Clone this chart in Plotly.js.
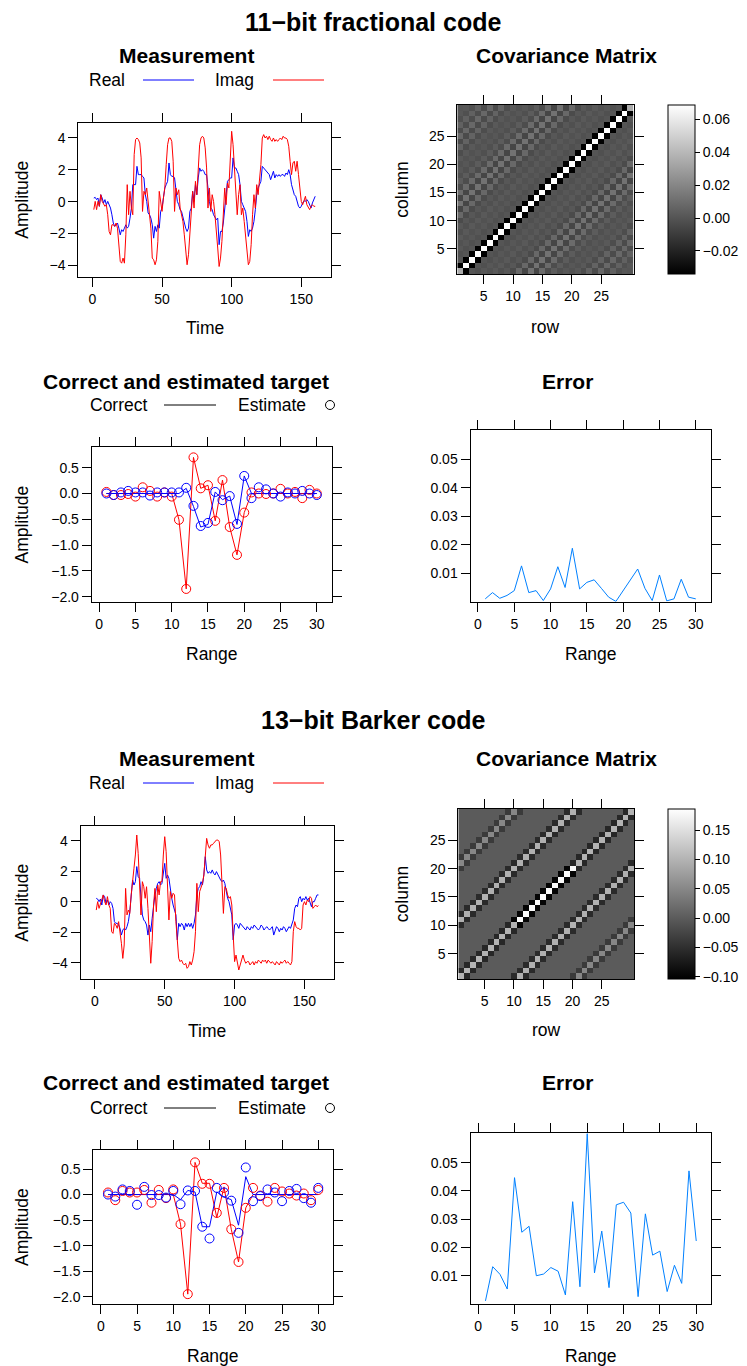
<!DOCTYPE html>
<html><head><meta charset="utf-8">
<script src="https://cdn.plot.ly/plotly-3.0.1.min.js"></script>
<style>html,body{margin:0;padding:0;background:#fff;}#chart{width:747px;height:1366px;}</style>
</head><body><div id="chart"></div>
<script>
// ---------------- DATA ----------------
const timeIdx = Array.from({length:160},(_,i)=>i+1);
const rangeIdx = Array.from({length:30},(_,i)=>i+1);
const covIdx = Array.from({length:30},(_,i)=>i+1);

// 11-bit fractional code: measurement
const frac_real = [0.23,0.27,0.13,0.23,-0.29,0.44,0.23,-0.08,0.13,-0.19,0.02,-0.19,-0.40,-0.82,-1.34,-1.55,-1.45,-1.34,-1.66,-2.08,
-1.76,-1.87,-1.66,-1.45,-1.66,-1.55,-1.03,-0.40,1.07,1.07,1.07,2.22,1.70,1.70,1.70,1.59,1.49,0.44,0.02,-0.71,
-0.82,-1.03,-1.45,-2.29,-1.55,-1.87,-1.45,-1.66,-0.61,-0.40,0.44,0.86,1.07,1.28,2.43,1.70,1.59,1.59,1.49,0.55,
0.02,-0.19,-0.50,-0.61,-1.03,-1.24,-1.66,-1.87,-1.66,-0.61,-0.40,0.65,0.02,1.07,0.44,1.49,2.12,1.91,2.01,1.91,
1.70,1.70,0.65,0.02,-0.40,-0.50,-0.82,-1.03,-1.13,-1.03,-2.70,-1.87,-1.87,-1.34,-0.40,0.44,1.28,1.38,1.49,1.49,
2.75,2.12,2.12,1.91,1.70,1.07,0.02,-0.19,-0.40,-0.61,-1.24,-2.18,-1.76,-1.87,-1.66,-1.24,-0.50,0.44,0.86,1.07,
1.28,2.22,2.12,2.01,1.91,1.80,1.70,1.38,1.70,1.91,1.49,1.70,1.59,1.70,1.59,1.70,1.70,1.59,1.80,1.70,
2.01,1.70,1.07,0.65,0.44,0.34,-0.08,-0.29,-0.40,-0.29,-0.08,0.06,0.02,0.13,0.02,-0.19,-0.40,-0.08,0.13,0.34];
const frac_imag = [-0.50,0.02,-0.50,0.02,-0.29,0.44,0.02,-0.19,-0.29,-0.19,-0.82,-1.87,-2.08,-1.45,-1.45,-1.55,-1.34,-1.66,-2.49,-3.75,
-3.86,-3.54,-3.86,-2.08,1.07,-0.82,0.65,-0.40,-0.82,2.96,3.90,4.00,3.90,3.69,2.75,-0.61,0.65,0.44,0.86,-0.19,
-0.82,-1.66,-3.54,-3.65,-3.96,-3.65,-2.49,0.65,-0.19,-0.61,0.23,0.86,2.33,3.58,4.00,4.00,3.79,2.54,-0.61,0.86,
0.44,0.75,-0.40,-0.82,-1.24,-2.08,-3.33,-3.96,-3.33,-2.08,-0.82,0.65,-0.40,1.28,0.44,2.22,3.58,4.00,4.11,4.00,
3.38,2.12,-0.40,0.86,-0.61,0.44,0.02,-0.82,-1.66,-2.91,-4.07,-3.54,-2.49,-0.61,0.86,-0.19,1.17,0.86,2.54,4.42,
3.58,2.33,0.86,-0.82,0.44,1.07,-0.82,-0.40,-1.24,-2.08,-3.33,-3.96,-3.75,-2.70,-0.82,0.44,-0.40,1.07,0.44,1.28,
2.33,4.00,4.21,4.00,4.11,3.90,4.11,3.90,3.79,4.00,3.79,3.90,3.79,3.90,4.00,3.90,4.11,4.00,4.00,3.90,
3.48,2.54,1.70,2.43,2.54,1.91,2.54,1.70,0.65,0.02,-0.19,0.02,0.34,-0.19,-0.40,-0.50,-0.29,-0.19,-0.29,-0.29];

// 11-bit covariance: diagonal, first off-diagonal, and lags 2..29
const frac_covDiag = [0.035,0.068,0.068,0.068,0.068,0.068,0.068,0.068,0.068,0.068,0.068,0.068,0.068,0.068,0.068,
0.068,0.068,0.068,0.068,0.068,0.068,0.068,0.068,0.068,0.068,0.068,0.068,0.068,0.068,0.035];
const frac_covLag1 = [-0.034,-0.034,-0.034,-0.034,-0.034,-0.034,-0.034,-0.034,-0.034,-0.034,-0.034,-0.034,-0.034,-0.034,-0.034,
-0.034,-0.034,-0.034,-0.034,-0.034,-0.034,-0.034,-0.034,-0.034,-0.034,-0.034,-0.034,-0.034,-0.034];
const frac_covLags = [0.000,-0.002,0.001,-0.001,0.002,-0.002,0.001,-0.004,0.008,-0.006,0.012,-0.006,0.009,-0.003,
0.003,-0.002,0.001,-0.001,0.002,-0.003,0.006,-0.004,0.008,-0.003,0.005,-0.002,0.001,0.000];

// 11-bit target
const frac_trueReal = [0,0,0,0,0,0,0,0,0,0,0.00,0.10,-0.25,-0.65,-0.60,0.03,-0.12,-0.05,-0.60,0.34,0,0,0,0,0,0,0,0,0,0];
const frac_trueImag = [0,0,0,0,0,0,0,0,0,0,-0.51,-1.85,0.70,0.10,0.16,-0.53,0.26,-0.65,-1.19,-0.37,0,0,0,0,0,0,0,0,0,0];
const frac_estReal = [0.00,-0.03,0.02,0.05,0.02,0.02,-0.04,0.02,0.02,0.02,0.02,0.11,-0.24,-0.63,-0.57,0.03,-0.13,-0.05,-0.59,0.34,
-0.09,0.12,0.08,0.00,-0.06,0.02,0.00,0.05,0.00,-0.03];
const frac_estImag = [0.03,-0.03,-0.03,-0.01,-0.06,0.12,0.05,-0.06,0.02,-0.06,-0.51,-1.85,0.70,0.10,0.16,-0.53,0.26,-0.65,-1.19,-0.37,
0.02,0.00,-0.01,0.00,0.09,0.00,0.03,-0.09,0.07,0.00];
const frac_error = [0.0010,0.0032,0.0012,0.0022,0.0039,0.0126,0.0032,0.0039,0.0004,0.0045,0.0123,0.0050,0.0188,0.0045,0.0068,
0.0077,0.0047,0.0016,0.0001,0.0040,0.0078,0.0115,0.0047,0.0004,0.0094,0.0003,0.0010,0.0079,0.0016,0.0010];

// 13-bit Barker code: measurement
const bark_real = [0.22,0.17,0.00,0.17,-0.22,0.44,0.33,-0.11,0.11,-0.22,0.00,-0.11,-0.44,-1.31,-1.42,-1.42,-1.53,-1.75,-2.19,-1.86,
-1.75,-1.86,-1.64,-1.31,-0.66,0.44,1.42,1.09,1.31,2.30,1.64,1.53,0.44,-0.87,-1.20,-1.31,-1.53,-2.19,-1.53,-1.97,
-1.09,-0.22,0.44,0.87,1.20,1.31,1.09,1.20,1.97,2.51,1.53,1.75,1.53,0.66,0.22,-0.22,-0.55,-0.87,-2.51,-1.42,
-1.64,-1.42,-1.53,-1.86,-1.42,-1.64,-1.42,-1.64,-1.42,-1.75,-1.42,-0.87,0.44,0.87,0.98,1.31,1.09,1.75,2.95,2.08,
1.86,1.97,1.86,2.08,1.86,1.75,1.97,1.75,1.53,1.42,1.31,1.42,1.20,0.66,0.22,0.00,-0.44,-0.87,-2.51,-1.53,
-1.42,-1.53,-1.75,-1.42,-1.53,-1.64,-1.75,-1.86,-1.64,-1.75,-1.86,-1.64,-1.75,-1.53,-1.64,-1.75,-1.86,-1.75,-1.53,-1.64,
-1.86,-1.75,-1.64,-1.75,-1.86,-1.75,-1.64,-2.19,-1.86,-1.64,-1.75,-1.97,-1.75,-1.86,-1.64,-1.75,-1.97,-1.75,-1.64,-1.75,
-1.53,-1.20,-0.44,-0.22,-0.33,0.22,0.33,0.00,0.22,0.11,0.33,0.11,0.22,0.00,-0.33,0.00,0.00,0.22,0.44,0.44];
const bark_imag = [-0.55,0.00,-0.44,-0.11,0.22,0.44,0.00,-0.22,0.33,-0.22,-0.44,-1.97,-2.08,-1.42,-1.53,-1.75,-1.31,-1.97,-2.73,-3.72,
-2.84,0.87,-0.87,-0.55,-0.77,0.44,1.53,2.19,3.06,4.37,3.17,1.31,-0.87,1.31,0.98,0.22,0.98,-0.44,-2.62,-4.04,
-2.62,-0.22,0.87,-0.66,1.09,0.44,1.31,1.31,3.06,4.26,3.28,1.09,-1.20,0.66,0.22,0.55,0.44,-1.31,-2.84,-3.72,
-3.93,-3.83,-4.04,-4.15,-4.04,-4.37,-4.26,-3.93,-4.15,-3.83,-3.28,-1.97,1.20,-0.66,0.66,0.87,1.20,1.75,3.06,4.15,
3.72,3.50,3.72,3.72,3.83,3.93,4.04,4.04,3.93,3.06,0.87,-0.77,0.98,0.87,0.44,0.22,0.33,-0.22,-2.19,-3.93,
-3.50,-3.93,-4.48,-4.15,-3.83,-3.50,-3.83,-4.04,-3.93,-3.93,-4.15,-4.04,-3.93,-4.15,-3.93,-4.04,-3.83,-3.93,-4.04,-3.83,
-3.93,-3.83,-4.04,-3.83,-3.93,-4.04,-3.93,-4.04,-4.15,-3.93,-4.04,-4.15,-3.93,-4.04,-3.93,-3.83,-4.04,-3.93,-4.04,-4.15,
-3.93,-1.97,-1.31,-1.64,-1.75,-1.75,-1.86,-1.75,-0.22,0.00,-0.22,0.11,0.00,0.33,0.22,-0.44,-0.33,-0.22,-0.33,-0.26];

// 13-bit Barker covariance
const bark_covDiag = [0.10,0.10,0.10,0.10,0.10,0.10,0.10,0.10,0.10,0.10,0.18,0.18,0.18,0.18,0.18,
0.18,0.18,0.18,0.18,0.18,0.10,0.10,0.10,0.10,0.10,0.10,0.10,0.10,0.10,0.10];
const bark_covLag1 = [-0.06,-0.06,-0.06,-0.06,-0.06,-0.06,-0.06,-0.06,-0.06,-0.10,-0.10,-0.10,-0.10,-0.10,-0.10,
-0.10,-0.10,-0.10,-0.10,-0.06,-0.06,-0.06,-0.06,-0.06,-0.06,-0.06,-0.06,-0.06,-0.06];
const bark_covLags = [0,0,0,0,0,0,0,-0.056,0.096,-0.056,0,0,0,0,0,0,0,-0.038,0.05,-0.038,0,0,0,0,0,0,0,0];

// 13-bit target
const bark_trueReal = [0,0,0,0,0,0,0,0,0,0,-0.10,0.08,0.05,-0.63,-0.63,0.05,-0.05,-0.10,-0.60,0.35,0,0,0,0,0,0,0,0,0,0];
const bark_trueImag = [0,0,0,0,0,0,0,0,0,0,-0.58,-1.95,0.63,0.22,0.22,-0.45,0.15,-0.68,-1.32,-0.26,0,0,0,0,0,0,0,0,0,0];
const bark_estReal = [0.00,-0.04,0.10,0.07,-0.20,0.15,-0.01,-0.01,-0.06,0.07,-0.19,0.08,0.07,-0.63,-0.86,0.13,0.04,-0.12,-0.75,0.53,
-0.13,-0.03,0.10,0.04,-0.13,0.07,0.11,-0.07,-0.16,0.13];
const bark_estImag = [0.04,-0.11,0.07,0.04,0.04,0.09,-0.16,0.09,-0.07,0.10,-0.58,-1.95,0.63,0.21,0.21,-0.36,0.13,-0.68,-1.32,-0.26,
0.13,-0.02,-0.14,0.13,0.06,0.02,-0.02,0.02,-0.11,0.09];
const bark_error = [0.0011,0.0132,0.0105,0.0053,0.0447,0.0254,0.0275,0.0100,0.0106,0.0129,0.0116,0.0032,0.0362,0.0061,0.0603,
0.0110,0.0258,0.0058,0.0351,0.0360,0.0322,0.0026,0.0319,0.0173,0.0187,0.0044,0.0137,0.0073,0.0471,0.0223];

const measTicks = [-4,-2,0,2,4];
const timeTicks = [0,50,100,150];
const covTicks = [5,10,15,20,25];
const rangeTicks = [0,5,10,15,20,25,30];
const ampTicks = [-2.0,-1.5,-1.0,-0.5,0.0,0.5];
const errTicks = [0.01,0.02,0.03,0.04,0.05];
const cbTicksFrac = [-0.02,0.00,0.02,0.04,0.06];
const cbTicksBark = [-0.10,-0.05,0.00,0.05,0.10,0.15];

// ---------------- LAYOUT HELPERS ----------------
const W = 747, H = 1366;
const px = v => v / W;
const py = v => 1 - v / H;
const xd = (l, r) => [l / W, r / W];
const yd = (t, b) => [1 - b / H, 1 - t / H];
const FONT = 'Liberation Sans, Arial, Helvetica, sans-serif';
const BLUE = '#0000FF', RED = '#FF0000', ERR = '#0080FF';

function buildCov(diag, lag1, lags) {
  const n = diag.length, z = [];
  for (let i = 0; i < n; i++) {
    const row = [];
    for (let j = 0; j < n; j++) {
      const d = Math.abs(i - j);
      row.push(d === 0 ? diag[i] : d === 1 ? lag1[Math.min(i, j)] : lags[d - 2]);
    }
    z.push(row);
  }
  return z;
}

function axis(o) {
  return Object.assign({
    showline: true, linecolor: '#000', linewidth: 1, mirror: 'ticks',
    ticks: 'outside', ticklen: 9, tickcolor: '#000', tickwidth: 1,
    showgrid: false, zeroline: false, fixedrange: true,
    tickfont: {family: FONT, size: 14, color: '#000'}
  }, o);
}

const traces = [];
const layout = {
  width: W, height: H, margin: {l: 0, r: 0, t: 0, b: 0},
  paper_bgcolor: '#fff', plot_bgcolor: '#fff', showlegend: false,
  font: {family: FONT, color: '#000'},
  annotations: [], shapes: []
};

function ann(text, x, y, size, opts) {
  layout.annotations.push(Object.assign({
    text: text, x: px(x), y: py(y), xref: 'paper', yref: 'paper',
    showarrow: false, xanchor: 'center', yanchor: 'middle',
    font: {family: FONT, size: size, color: '#000'}
  }, opts || {}));
}
function legLine(x0, x1, y, color) {
  layout.shapes.push({type: 'line', xref: 'paper', yref: 'paper',
    x0: px(x0), x1: px(x1), y0: py(y), y1: py(y), line: {color: color, width: 1}});
}
function legCircle(x, y) {
  layout.shapes.push({type: 'circle', xref: 'paper', yref: 'paper',
    xsizemode: 'pixel', ysizemode: 'pixel', xanchor: px(x), yanchor: py(y),
    x0: -4.5, x1: 4.5, y0: -4.5, y1: 4.5, line: {color: '#000', width: 1}});
}

function block(k, off, d) {
  // k: axis index base (1,5) ; off: vertical pixel offset ; d: data set
  const a1 = k, a2 = k + 1, a3 = k + 2, a4 = k + 3;
  const s = n => (n === 1 ? '' : String(n));
  const B = d.boxes;

  // Measurement
  traces.push({x: timeIdx, y: d.real, type: 'scatter', mode: 'lines', line: {color: BLUE, width: 1},
    xaxis: 'x' + s(a1), yaxis: 'y' + s(a1), hoverinfo: 'skip'});
  traces.push({x: timeIdx, y: d.imag, type: 'scatter', mode: 'lines', line: {color: RED, width: 1},
    xaxis: 'x' + s(a1), yaxis: 'y' + s(a1), hoverinfo: 'skip'});
  layout['xaxis' + s(a1)] = axis({domain: xd(B.m[0], B.m[1]), anchor: 'y' + s(a1), range: [-10.13, 171.13], tickvals: timeTicks});
  layout['yaxis' + s(a1)] = axis({domain: yd(B.m[2], B.m[3]), anchor: 'x' + s(a1), range: d.mRange, tickvals: measTicks});

  // Covariance
  traces.push({z: buildCov(d.cDiag, d.cLag1, d.cLags), x: covIdx, y: covIdx, type: 'heatmap',
    colorscale: [[0, '#000000'], [1, '#FFFFFF']], zmin: d.cb[0], zmax: d.cb[1], zsmooth: false,
    xaxis: 'x' + s(a2), yaxis: 'y' + s(a2), hoverinfo: 'skip',
    colorbar: {x: px(668), xanchor: 'left', y: py(B.c[2]), yanchor: 'top',
      len: B.c[3] - B.c[2], lenmode: 'pixels', thickness: 27, thicknessmode: 'pixels',
      xpad: 0, ypad: 0, outlinewidth: 1, outlinecolor: '#000',
      ticks: 'outside', ticklen: 5, tickcolor: '#000', tickvals: d.cbTicks, tickformat: '.2f',
      tickfont: {family: FONT, size: 14, color: '#000'}}});
  layout['xaxis' + s(a2)] = axis({domain: xd(B.c[0], B.c[1]), anchor: 'y' + s(a2), range: [0.5, 30.5], tickvals: covTicks});
  layout['yaxis' + s(a2)] = axis({domain: yd(B.c[2], B.c[3]), anchor: 'x' + s(a2), range: [0.5, 30.5], tickvals: covTicks});

  // Target
  const tx = 'x' + s(a3), ty = 'y' + s(a3);
  traces.push({x: rangeIdx, y: d.tImag, type: 'scatter', mode: 'lines', line: {color: RED, width: 1}, xaxis: tx, yaxis: ty, hoverinfo: 'skip'});
  traces.push({x: rangeIdx, y: d.tReal, type: 'scatter', mode: 'lines', line: {color: BLUE, width: 1}, xaxis: tx, yaxis: ty, hoverinfo: 'skip'});
  traces.push({x: rangeIdx, y: d.eImag, type: 'scatter', mode: 'markers', marker: {symbol: 'circle-open', size: 9, color: RED, line: {width: 1}}, xaxis: tx, yaxis: ty, hoverinfo: 'skip'});
  traces.push({x: rangeIdx, y: d.eReal, type: 'scatter', mode: 'markers', marker: {symbol: 'circle-open', size: 9, color: BLUE, line: {width: 1}}, xaxis: tx, yaxis: ty, hoverinfo: 'skip'});
  layout['xaxis' + s(a3)] = axis({domain: xd(B.t[0], B.t[1]), anchor: ty, range: [-1.03, 32.03], tickvals: rangeTicks});
  layout['yaxis' + s(a3)] = axis({domain: yd(B.t[2], B.t[3]), anchor: tx, range: d.tRange, tickvals: ampTicks, tickformat: '.1f'});

  // Error
  const ex = 'x' + s(a4), ey = 'y' + s(a4);
  traces.push({x: rangeIdx, y: d.err, type: 'scatter', mode: 'lines', line: {color: ERR, width: 1}, xaxis: ex, yaxis: ey, hoverinfo: 'skip'});
  layout['xaxis' + s(a4)] = axis({domain: xd(B.e[0], B.e[1]), anchor: ey, range: [-1.03, 32.03], tickvals: rangeTicks});
  layout['yaxis' + s(a4)] = axis({domain: yd(B.e[2], B.e[3]), anchor: ex, range: [0, 0.0604], tickvals: errTicks, tickformat: '.2f'});

  // Texts
  ann('<b>' + d.title + '</b>', 373, d.titleY, 25);
  ann('<b>Measurement</b>', 186, 55 + off, 21);
  ann('<b>Covariance Matrix</b>', 566, 55 + off, 21);
  ann('Real', 87, 80 + off, 17.5, {xanchor: 'left'});
  legLine(143, 194, 80 + off, BLUE);
  ann('Imag', 213, 80 + off, 17.5, {xanchor: 'left'});
  legLine(273, 324, 80 + off, RED);
  ann('Amplitude', 22, (B.m[2] + B.m[3]) / 2, 17.5, {textangle: -90});
  ann('Time', (B.m[0] + B.m[1]) / 2, 328 + off, 17.5);
  ann('column', 402, (B.c[2] + B.c[3]) / 2, 17.5, {textangle: -90});
  ann('row', (B.c[0] + B.c[1]) / 2, 327 + off, 17.5);

  ann('<b>Correct and estimated target</b>', 186, d.t2Y, 21);
  ann('<b>Error</b>', 567, d.t2Y, 21);
  ann('Correct', 88, d.legY, 17.5, {xanchor: 'left'});
  legLine(164, 216, d.legY, '#000');
  ann('Estimate', 236, d.legY, 17.5, {xanchor: 'left'});
  legCircle(330, d.legY);
  ann('Amplitude', 22, (B.t[2] + B.t[3]) / 2, 17.5, {textangle: -90});
  ann('Range', (B.t[0] + B.t[1]) / 2, d.rangeY, 17.5);
  ann('Range', (B.e[0] + B.e[1]) / 2, d.rangeY, 17.5);
}

block(1, 0, {
  title: '11\u2212bit fractional code', titleY: 22, t2Y: 381, legY: 405, rangeY: 654,
  real: frac_real, imag: frac_imag, mRange: [-4.71, 4.96],
  cDiag: frac_covDiag, cLag1: frac_covLag1, cLags: frac_covLags, cb: [-0.034, 0.0686], cbTicks: cbTicksFrac,
  tReal: frac_trueReal, tImag: frac_trueImag, eReal: frac_estReal, eImag: frac_estImag, tRange: [-2.097, 0.895],
  err: frac_error,
  boxes: {m: [78.3, 330.7, 122.7, 276.7], c: [457.3, 633.5, 105, 274.3], t: [91.7, 331.5, 447.3, 601.7], e: [470.5, 710.5, 430, 601.7]}
});
block(5, 703, {
  title: '13\u2212bit Barker code', titleY: 720, t2Y: 1082, legY: 1108, rangeY: 1356,
  real: bark_real, imag: bark_imag, mRange: [-5.09, 4.96],
  cDiag: bark_covDiag, cLag1: bark_covLag1, cLags: bark_covLags, cb: [-0.104, 0.186], cbTicks: cbTicksBark,
  tReal: bark_trueReal, tImag: bark_trueImag, eReal: bark_estReal, eImag: bark_estImag, tRange: [-2.143, 0.872],
  err: bark_error,
  boxes: {m: [80.7, 334, 826, 979.3], c: [458.3, 634, 809, 979.3], t: [93.3, 333, 1150, 1304], e: [470.7, 711, 1133.3, 1304]}
});

Plotly.newPlot('chart', traces, layout, {staticPlot: true, displayModeBar: false});
</script>
</body></html>
